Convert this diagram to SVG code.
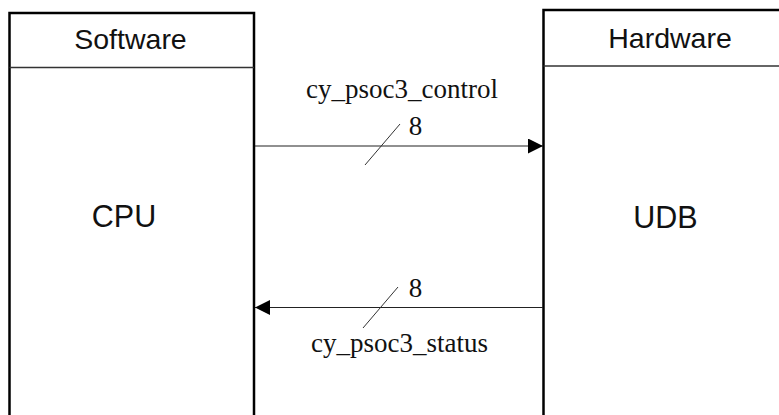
<svg xmlns="http://www.w3.org/2000/svg" width="779" height="415" viewBox="0 0 779 415">
<defs>
<style>
.box{fill:#fff;stroke:#000;stroke-width:2.5}
.div{stroke:#333;stroke-width:1.3}
.head{font-family:"Liberation Sans",Arial,sans-serif;font-size:28.5px;fill:#111;text-anchor:middle}
.body{font-family:"Liberation Sans",Arial,sans-serif;font-size:30.5px;fill:#111;text-anchor:middle}
.serif{font-family:"Liberation Serif","Times New Roman",serif;font-size:27px;fill:#111;text-anchor:middle}
.conn{stroke:#222;stroke-width:1.2;fill:none}
.slash{stroke:#333;stroke-width:1;fill:none}
</style>
<marker id="ah" viewBox="0 0 15 15" refX="15" refY="7.5" markerWidth="15" markerHeight="15" markerUnits="userSpaceOnUse" orient="auto">
<path d="M0,0 L15,7.5 L0,15 Z" fill="#000"/>
</marker>
</defs>
<g id="software">
<rect class="box" x="9.5" y="13" width="244.5" height="420"/>
<line class="div" x1="9.5" y1="67.5" x2="254" y2="67.5"/>
<text class="head" x="130.5" y="49">Software</text>
<text class="body" x="124" y="227">CPU</text>
</g>
<g id="hardware">
<rect class="box" x="543.5" y="10" width="260" height="420"/>
<line class="div" x1="543.5" y1="66" x2="790" y2="66"/>
<text class="head" x="670" y="48">Hardware</text>
<text class="body" x="665.5" y="228">UDB</text>
</g>
<g id="connectors">
<line class="conn" x1="255" y1="146" x2="543" y2="146" marker-end="url(#ah)"/>
<line class="slash" x1="365" y1="165" x2="400" y2="124"/>
<text class="serif" x="415.5" y="135">8</text>
<text class="serif" x="402" y="98">cy_psoc3_control</text>
<line class="conn" x1="543" y1="307.5" x2="255" y2="307.5" marker-end="url(#ah)"/>
<line class="slash" x1="363" y1="328" x2="398" y2="287"/>
<text class="serif" x="415.5" y="297">8</text>
<text class="serif" x="399.5" y="352">cy_psoc3_status</text>
</g>
</svg>
